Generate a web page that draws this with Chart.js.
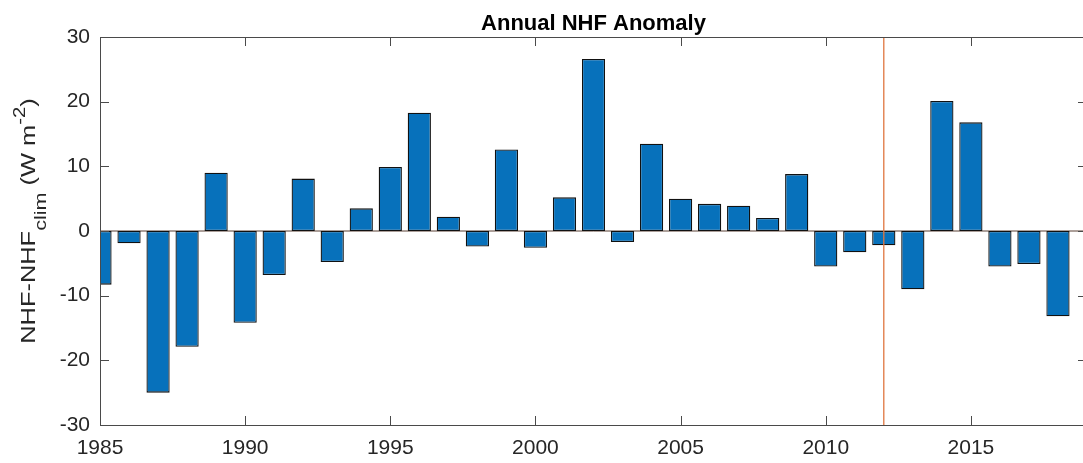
<!DOCTYPE html>
<html>
<head>
<meta charset="utf-8">
<script src="https://cdn.jsdelivr.net/npm/chart.js@4"></script>
<style>
  html, body { margin: 0; padding: 0; background: #fff; overflow: hidden; }
  #wrap { width: 1090px; height: 463px; }
</style>
</head>
<body>
<div id="wrap"><canvas id="nhf-chart" width="1090" height="463"></canvas></div>
<script>
// data
const years = [1985, 1986, 1987, 1988, 1989, 1990, 1991, 1992, 1993, 1994,
  1995, 1996, 1997, 1998, 1999, 2000, 2001, 2002, 2003, 2004,
  2005, 2006, 2007, 2008, 2009, 2010, 2011, 2012, 2013, 2014,
  2015, 2016, 2017, 2018];
const anomaly = [-8.3, -1.9, -25.0, -17.9, 9.0, -14.2, -6.8, 8.1, -4.8, 3.5,
  9.9, 18.3, 2.2, -2.4, 12.6, -2.6, 5.2, 26.6, -1.7, 13.5,
  5.0, 4.2, 3.9, 2.0, 8.8, -5.5, -3.3, -2.2, -9.0, 20.1,
  16.8, -5.5, -5.1, -13.2];
const markYear = 2012;
const xRange = [1985, 2019];
const yRange = [-30, 30];
const xStep = 5;
const yStep = 10;

const axisColor = "#4a4a4a";
const textColor = "#262626";
const fontFamily = "'Liberation Sans', Arial, Helvetica, sans-serif";

// frame, inward ticks, title and y label (MATLAB look)
const matlabAxes = {
  id: "matlabAxes",
  afterDraw(chart) {
    const ctx = chart.ctx;
    const area = chart.chartArea;
    const xs = chart.scales.x;
    const ys = chart.scales.y;
    const tl = 9;

    ctx.save();
    ctx.strokeStyle = axisColor;
    ctx.lineWidth = 1;
    ctx.strokeRect(area.left + 0.5, area.top + 0.5, area.right - area.left, area.bottom - area.top);

    ctx.beginPath();
    xs.ticks.forEach(t => {
      const px = Math.round(xs.getPixelForValue(t.value)) + 0.5;
      ctx.moveTo(px, area.bottom);
      ctx.lineTo(px, area.bottom - tl);
      ctx.moveTo(px, area.top);
      ctx.lineTo(px, area.top + tl);
    });
    ys.ticks.forEach(t => {
      const py = Math.round(ys.getPixelForValue(t.value)) + 0.5;
      ctx.moveTo(area.left, py);
      ctx.lineTo(area.left + tl, py);
      ctx.moveTo(area.right, py);
      ctx.lineTo(area.right - tl, py);
    });
    ctx.stroke();

    // title
    ctx.fillStyle = "#000";
    ctx.font = "bold 22px " + fontFamily;
    ctx.textAlign = "center";
    ctx.textBaseline = "alphabetic";
    ctx.fillText("Annual NHF Anomaly", (area.left + area.right) / 2, 30);

    // y label with subscript and superscript, a bit stretched along the text
    const parts = [
      { text: "NHF-NHF", size: 20, dy: 0 },
      { text: "clim", size: 17, dy: 11 },
      { text: " (W m", size: 20, dy: 0 },
      { text: "-2", size: 16, dy: -10 },
      { text: ")", size: 20, dy: 0 },
    ];
    let total = 0;
    parts.forEach(p => {
      ctx.font = p.size + "px " + fontFamily;
      p.w = ctx.measureText(p.text).width;
      total += p.w;
    });
    ctx.translate(35, 221);
    ctx.rotate(-Math.PI / 2);
    ctx.scale(1.27, 1);
    ctx.textAlign = "left";
    ctx.fillStyle = textColor;
    let cx = -total / 2;
    parts.forEach(p => {
      ctx.font = p.size + "px " + fontFamily;
      ctx.fillText(p.text, cx, p.dy);
      cx += p.w;
    });
    ctx.restore();
  }
};

const ctxNhf = document.getElementById("nhf-chart");
new Chart(ctxNhf, {
  type: "bar",
  data: {
    datasets: [
      {
        type: "line",
        label: "2012",
        data: [{ x: markYear, y: yRange[0] }, { x: markYear, y: yRange[1] }],
        borderColor: "#e0763f",
        borderWidth: 1.3,
        pointRadius: 0,
        order: 0,
      },
      {
        label: "NHF anomaly",
        data: years.map((yr, i) => ({ x: yr, y: anomaly[i] })),
        backgroundColor: "#0771bb",
        borderColor: "#111111",
        borderWidth: 1.3,
        borderSkipped: false,
        barPercentage: 0.8,
        categoryPercentage: 1,
        order: 1,
      },
      {
        type: "line",
        label: "baseline",
        data: [{ x: xRange[0], y: 0 }, { x: xRange[1], y: 0 }],
        borderColor: "#5a4034",
        borderWidth: 1,
        pointRadius: 0,
        order: 2,
      },
    ],
  },
  options: {
    responsive: false,
    animation: false,
    layout: { padding: { top: 37, right: 3, left: 0, bottom: 0 } },
    plugins: {
      legend: { display: false },
      title: { display: false },
      tooltip: { enabled: false },
    },
    scales: {
      x: {
        type: "linear",
        min: xRange[0],
        max: xRange[1],
        offset: false,
        border: { display: false },
        grid: { display: false, drawTicks: false, offset: false },
        ticks: {
          stepSize: xStep,
          includeBounds: false,
          padding: 11,
          maxRotation: 0,
          color: textColor,
          font: { family: fontFamily, size: 21 },
          callback: v => String(v),
        },
        afterFit: s => { s.height = 38; },
      },
      y: {
        min: yRange[0],
        max: yRange[1],
        border: { display: false },
        grid: { display: false, drawTicks: false },
        ticks: {
          stepSize: yStep,
          padding: 10,
          color: textColor,
          font: { family: fontFamily, size: 21 },
        },
        afterFit: s => { s.width = 100; },
      },
    },
  },
  plugins: [matlabAxes],
});
</script>
</body>
</html>
